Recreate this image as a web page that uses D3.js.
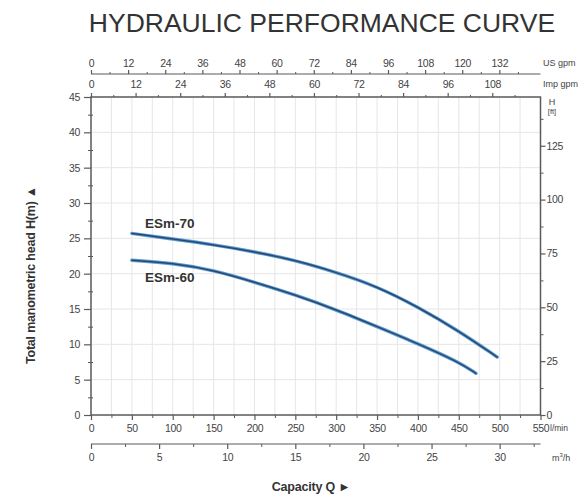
<!DOCTYPE html>
<html><head><meta charset="utf-8">
<script src="https://cdn.jsdelivr.net/npm/d3@7"></script>
<style>body{margin:0;background:#fff}svg{display:block}text{font-family:"Liberation Sans",Arial,sans-serif}</style>
</head><body><svg id="c" width="579" height="495"></svg>
<script>
// Data
const esm70Q = [50, 100, 150, 200, 250, 300, 350, 400, 450, 497];
const esm70H = [25.7, 24.9, 24.1, 23.1, 21.9, 20.2, 18.2, 15.3, 11.9, 8.2];
const esm60Q = [50, 100, 150, 200, 250, 300, 350, 400, 450, 471];
const esm60H = [21.9, 21.5, 20.5, 18.8, 17.0, 14.9, 12.5, 10.1, 7.5, 5.9];
const seriesNames = ["ESm-70", "ESm-60"];
const lminTicks = [0,50,100,150,200,250,300,350,400,450,500,550];
const m3hTicks = [0,5,10,15,20,25,30];
const usgpmTicks = [0,12,24,36,48,60,72,84,96,108,120,132];
const impgpmTicks = [0,12,24,36,48,60,72,84,96,108];
const hmTicks = [0,5,10,15,20,25,30,35,40,45];
const hftTicks = [0,25,50,75,100,125];

const svg = d3.select("#c");
const L = 91, R = 540.5, T = 97, B = 415;
const x = d3.scaleLinear().domain([0,550]).range([L,R]);
const y = d3.scaleLinear().domain([0,45]).range([B,T]);
const xm3 = d3.scaleLinear().domain([0,550/16.6667]).range([L,R]);
const xus = d3.scaleLinear().domain([0,550/3.7854]).range([L,R]);
const ximp = d3.scaleLinear().domain([0,550/4.5461]).range([L,R]);
const yft = d3.scaleLinear().domain([0,45*3.2808]).range([B,T]);
const ink = "#5a5a5a", txt = "#444", FS = 10.5;

// title
svg.append("text").attr("x",322).attr("y",32).attr("text-anchor","middle")
  .attr("font-size",26.5).attr("fill","#333").text("HYDRAULIC PERFORMANCE CURVE");

// grid
const g = svg.append("g");
g.selectAll(".gv").data(d3.range(25,550,25)).join("line")
  .attr("x1",d=>x(d)).attr("x2",d=>x(d)).attr("y1",T).attr("y2",B)
  .attr("stroke","#e6e6e6").attr("stroke-width",1);
g.selectAll(".gh").data(d3.range(5,45,5)).join("line")
  .attr("y1",d=>y(d)).attr("y2",d=>y(d)).attr("x1",L).attr("x2",R)
  .attr("stroke","#e6e6e6").attr("stroke-width",1);

// frame
svg.append("rect").attr("x",L).attr("y",T).attr("width",R-L).attr("height",B-T)
  .attr("fill","none").attr("stroke",ink).attr("stroke-width",1.5);

function styleAxis(sel){
  sel.select(".domain").remove();
  sel.selectAll("line").attr("stroke",ink).attr("stroke-width",1.2);
  sel.selectAll("text").attr("fill",txt).attr("font-size",FS).attr("letter-spacing",-0.3)
    .attr("font-family","Liberation Sans, Arial, sans-serif");
}
function minor(sel){
  sel.select(".domain").remove();
  sel.selectAll("line").attr("stroke",ink).attr("stroke-width",1);
}

// left axis
const la = svg.append("g").attr("transform",`translate(${L},0)`)
  .call(d3.axisLeft(y).tickValues(hmTicks).tickSize(7).tickPadding(4));
styleAxis(la);
svg.append("g").attr("transform",`translate(${L+2},0)`)
  .call(d3.axisLeft(y).tickValues(d3.range(2.5,45,5)).tickSize(5).tickFormat("")).call(minor);

// right ft axis
const ra = svg.append("g").attr("transform",`translate(${R},0)`)
  .call(d3.axisRight(yft).tickValues(hftTicks).tickSize(5).tickPadding(1));
styleAxis(ra);
svg.append("g").attr("transform",`translate(${R},0)`)
  .call(d3.axisRight(yft).tickValues(d3.range(12.5,145,25)).tickSize(3).tickFormat("")).call(minor);
svg.append("text").attr("x",552).attr("y",105).attr("text-anchor","middle").attr("font-size",9).attr("fill",txt).text("H");
svg.append("text").attr("x",552).attr("y",114).attr("text-anchor","middle").attr("font-size",7.5).attr("fill",txt).text("[ft]");

// bottom l/min axis
const ba = svg.append("g").attr("transform",`translate(0,${B})`)
  .call(d3.axisBottom(x).tickValues(lminTicks).tickSize(5).tickPadding(5));
styleAxis(ba);
svg.append("g").attr("transform",`translate(0,${B})`)
  .call(d3.axisBottom(x).tickValues(d3.range(25,550,50)).tickSize(3).tickFormat("")).call(minor);
svg.append("text").attr("x",550).attr("y",431).attr("font-size",8.5).attr("fill",txt).text("l/min");

// m3/h axis
const ym3 = 444;
svg.append("line").attr("x1",L).attr("x2",R).attr("y1",ym3).attr("y2",ym3).attr("stroke",ink).attr("stroke-width",1.2);
const ma = svg.append("g").attr("transform",`translate(0,${ym3})`)
  .call(d3.axisBottom(xm3).tickValues(m3hTicks).tickSize(5).tickPadding(5));
styleAxis(ma);
svg.append("g").attr("transform",`translate(0,${ym3})`)
  .call(d3.axisBottom(xm3).tickValues(d3.range(2.5,33,5)).tickSize(3).tickFormat("")).call(minor);
const m3t = svg.append("text").attr("x",552).attr("y",461).attr("font-size",9).attr("fill",txt);
m3t.append("tspan").text("m");
m3t.append("tspan").attr("dy",-4).attr("font-size",6).text("3");
m3t.append("tspan").attr("dy",4).text("/h");

// top imp gpm axis (on frame)
const ia = svg.append("g").attr("transform",`translate(0,${T})`)
  .call(d3.axisTop(ximp).tickValues(impgpmTicks).tickSize(4).tickPadding(5));
styleAxis(ia);
svg.append("g").attr("transform",`translate(0,${T})`)
  .call(d3.axisTop(ximp).tickValues(d3.range(6,121,12)).tickSize(2).tickFormat("")).call(minor);
svg.append("text").attr("x",543).attr("y",87).attr("font-size",9).attr("fill",txt).text("Imp gpm");

// top US gpm axis
const yus = 74;
svg.append("line").attr("x1",L).attr("x2",R).attr("y1",yus).attr("y2",yus).attr("stroke",ink).attr("stroke-width",1.2);
const ua = svg.append("g").attr("transform",`translate(0,${yus})`)
  .call(d3.axisTop(xus).tickValues(usgpmTicks).tickSize(4).tickPadding(3));
styleAxis(ua);
svg.append("g").attr("transform",`translate(0,${yus})`)
  .call(d3.axisTop(xus).tickValues(d3.range(6,146,12)).tickSize(2).tickFormat("")).call(minor);
svg.append("text").attr("x",543).attr("y",66).attr("font-size",9).attr("fill",txt).text("US gpm");

// axis titles
svg.append("text").attr("transform","translate(35,275) rotate(-90)").attr("text-anchor","middle")
  .attr("font-size",12.5).attr("font-weight","bold").attr("fill","#333").attr("letter-spacing",-0.2)
  .text("Total manometric head H(m)  \u25B2");
svg.append("text").attr("x",311).attr("y",491).attr("text-anchor","middle")
  .attr("font-size",12.5).attr("font-weight","bold").attr("fill","#333").attr("letter-spacing",-0.2)
  .text("Capacity Q  \u25BA");

// curves
const line = d3.line().x(d=>x(d[0])).y(d=>y(d[1])).curve(d3.curveBasis);
const series = [d3.zip(esm70Q, esm70H), d3.zip(esm60Q, esm60H)];
series.forEach(s=>{
  svg.append("path").datum(s).attr("d",line).attr("fill","none").attr("stroke","#5b9bd5").attr("stroke-width",3.4).attr("stroke-linecap","round");
  svg.append("path").datum(s).attr("d",line).attr("fill","none").attr("stroke","#27496f").attr("stroke-width",1.5).attr("stroke-linecap","round");
});
svg.append("text").attr("x",145).attr("y",228).attr("font-size",13.5).attr("font-weight","bold").attr("fill","#333").text(seriesNames[0]);
svg.append("text").attr("x",145).attr("y",282).attr("font-size",13.5).attr("font-weight","bold").attr("fill","#333").text(seriesNames[1]);
</script></body></html>
